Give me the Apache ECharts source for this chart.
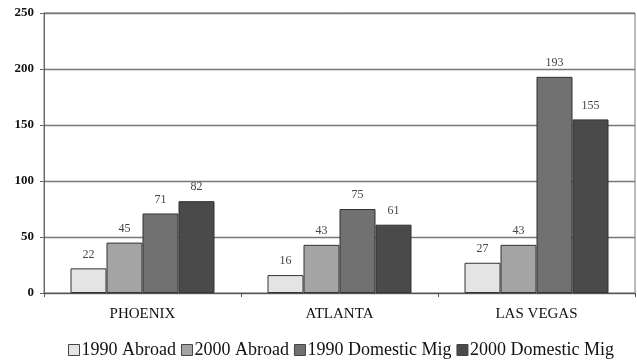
<!DOCTYPE html>
<html><head><meta charset="utf-8">
<script src="https://cdn.jsdelivr.net/npm/echarts@6/dist/echarts.min.js"></script>
<style>html,body{margin:0;padding:0;background:#fff}#c{width:637px;height:364px}</style>
</head><body><div id="c"></div>
<script>
var categories = ['PHOENIX', 'ATLANTA', 'LAS VEGAS'];
var seriesNames = ['1990 Abroad', '2000 Abroad', '1990 Domestic Mig', '2000 Domestic Mig'];
var abroad1990 = [22, 16, 27];
var abroad2000 = [45, 43, 43];
var domestic1990 = [71, 75, 193];
var domestic2000 = [82, 61, 155];
var yTicks = [0, 50, 100, 150, 200, 250];
var colors = ['#e4e4e4', '#a4a4a4', '#717171', '#4a4a4a'];
var values = [abroad1990, abroad2000, domestic1990, domestic2000];
var font = '"Liberation Serif", "DejaVu Serif", serif';
var chart = echarts.init(document.getElementById('c'));
chart.setOption({
  animation: false,
  textStyle: {fontFamily: font},
  grid: {left: 44, right: 2, top: 13, bottom: 71, show: true, borderColor: '#777', borderWidth: 1, containLabel: false},
  legend: {
    bottom: 0, left: 63, icon: 'rect', itemWidth: 11, itemHeight: 11, itemGap: 5,
    textStyle: {fontFamily: font, fontSize: 18, color: '#111', padding: [0, 0, 0, -3]},
    data: seriesNames.map(function(n, i){ return {name: n, itemStyle: {color: colors[i], borderColor: '#444', borderWidth: 1}}; })
  },
  xAxis: {
    type: 'category', data: categories,
    axisLine: {lineStyle: {color: '#555'}},
    axisTick: {show: true, length: 4, lineStyle: {color: '#555'}},
    axisLabel: {fontFamily: font, fontSize: 15, color: '#111', margin: 14}
  },
  yAxis: {
    type: 'value', min: yTicks[0], max: yTicks[yTicks.length - 1], interval: 50,
    axisLine: {show: true, lineStyle: {color: '#666'}},
    axisTick: {show: true, length: 4, lineStyle: {color: '#666'}},
    splitLine: {lineStyle: {color: '#777', width: 1.3}},
    axisLabel: {fontFamily: font, fontSize: 13, fontWeight: 'bold', color: '#111', margin: 10}
  },
  series: values.map(function(v, i){
    return {
      name: seriesNames[i], type: 'bar', data: v, barWidth: 36, barGap: '0%',
      itemStyle: {color: colors[i], borderColor: '#333', borderWidth: 1},
      label: {show: true, position: 'top', distance: 8, fontFamily: font, fontSize: 12, color: '#444'}
    };
  })
});
</script></body></html>
